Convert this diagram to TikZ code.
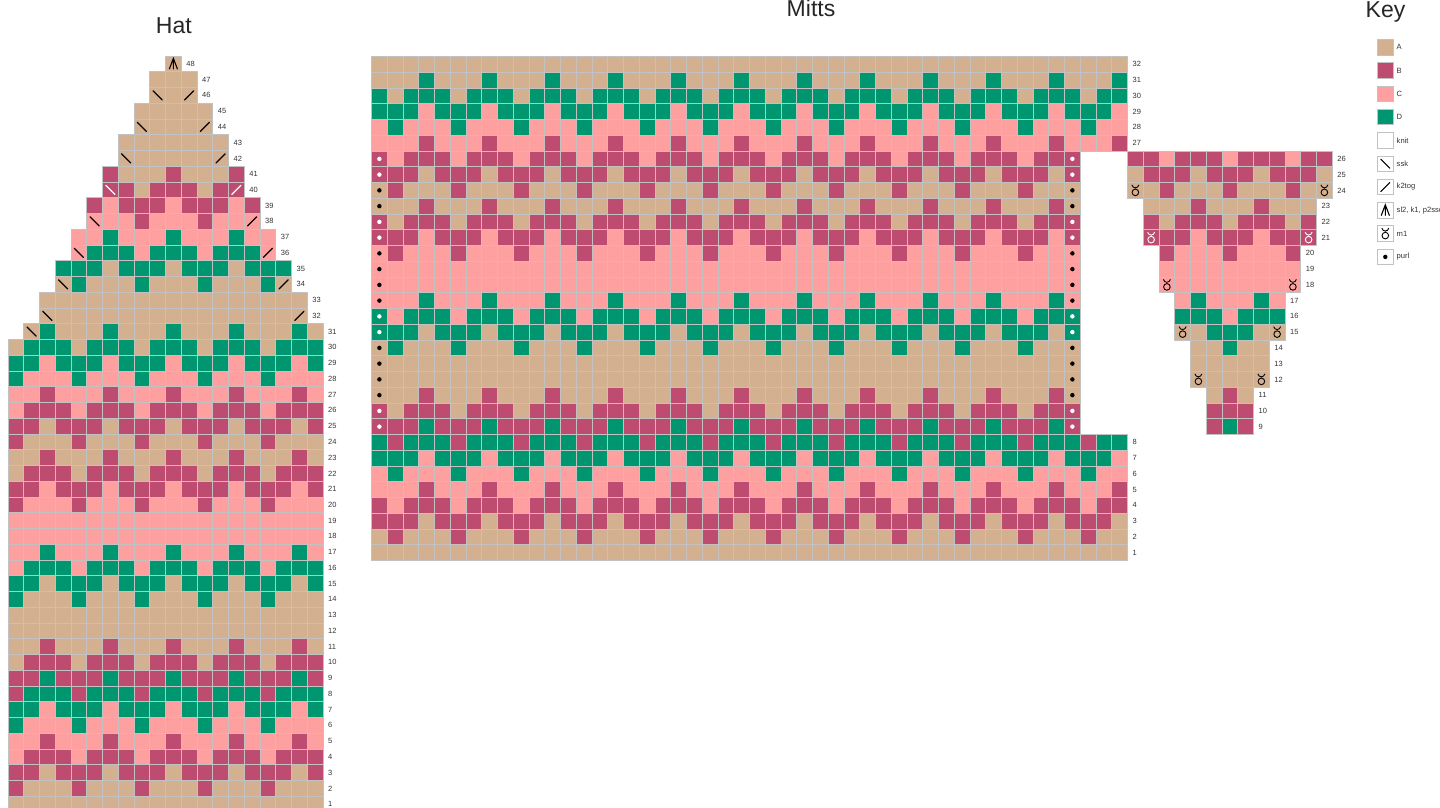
\documentclass[tikz,border=0pt]{standalone}
\usepackage{fontspec}
\setmainfont{Liberation Sans}
\usetikzlibrary{positioning}
\definecolor{yarnA}{HTML}{D3B08F}
\definecolor{yarnB}{HTML}{BE4C70}
\definecolor{yarnC}{HTML}{FFA0A0}
\definecolor{yarnD}{HTML}{009670}
\definecolor{gridgrey}{HTML}{C2C2C2}
\newcommand{\cellsz}{15.75}
% one chart row: left edge, top edge, first and last column, main yarn, contrast yarn, column (mod 4) of the contrast
\newcommand{\chartrow}[7]{%
  \foreach \ci in {#3,...,#4} {%
    \pgfmathtruncatemacro{\md}{mod(\ci,4)}%
    \ifnum\md=#7\relax\edef\yarn{#6}\else\edef\yarn{#5}\fi
    \draw[cell, fill=yarn\yarn] ({#1+(\ci-1)*\cellsz},{#2}) rectangle ++(\cellsz,\cellsz);
  }}

\begin{document}
\begin{tikzpicture}[x=1pt, y=-1pt,
    cell/.style={draw=gridgrey, line width=0.9pt},
    rowno/.style={anchor=west, inner sep=0pt, text=black!80, font=\fontsize{7.5}{9}\selectfont},
    title/.style={anchor=base, inner sep=0pt, text=black!85, font=\fontsize{23}{27}\selectfont},
    swatch/.style={draw=gridgrey, line width=0.9pt, minimum size=15.5pt, inner sep=0pt},
    keytext/.style={anchor=west, inner sep=0pt, text=black!80, font=\fontsize{7.6}{9}\selectfont},
    stitch/.style={line width=1.1pt, line cap=round},
    ssk/.pic={\draw[stitch] (-4.5,-4.5) -- (4.5,4.5);},
    k2tog/.pic={\draw[stitch] (-4.5,4.5) -- (4.5,-4.5);},
    cdd/.pic={\draw[stitch] (-4,5) -- (0,-5.5) -- (4,5) (0,-5.5) -- (0,5);},
    mone/.pic={\draw[line width=0.9pt] (0,2) circle (3.3)
        (-3.5,-5.5) .. controls (-2.5,-1.6) and (2.5,-1.6) .. (3.5,-5.5);},
    purl/.pic={\fill (0,0) circle (2.2);},
  ]
  \useasboundingbox (0,0) rectangle (1440,807);
  \clip (0,0) rectangle (1440,807);

  % Titles
  \node[title] (hattitle) at (173.8,33) {Hat};
  \node[title] (mittstitle) at (811,16.5) {Mitts};
  \node[title] (keytitle) at (1385.5,17) {Key};

  % Hat
  \foreach \rw/\lo/\hi/\mainy/\cony/\ph in {1/1/20/A/A/1, 2/1/20/A/B/1, 3/1/20/B/A/3,
      4/1/20/B/C/1, 5/1/20/C/B/3, 6/1/20/C/D/1, 7/1/20/D/C/3, 8/1/20/D/B/1,
      9/1/20/B/D/3, 10/1/20/B/A/1, 11/1/20/A/B/3, 12/1/20/A/A/1, 13/1/20/A/A/3,
      14/1/20/A/D/1, 15/1/20/D/A/3, 16/1/20/D/C/1, 17/1/20/C/D/3, 18/1/20/C/C/1,
      19/1/20/C/C/3, 20/1/20/C/B/1, 21/1/20/B/C/3, 22/1/20/B/A/1, 23/1/20/A/B/3,
      24/1/20/A/B/1, 25/1/20/B/A/3, 26/1/20/B/C/1, 27/1/20/C/B/3, 28/1/20/C/D/1,
      29/1/20/D/C/3, 30/1/20/D/A/1, 31/2/20/A/D/3, 32/3/19/A/A/1, 33/3/19/A/A/3,
      34/4/18/A/D/1, 35/4/18/D/A/3, 36/5/17/D/C/1, 37/5/17/C/D/3, 38/6/16/C/B/1,
      39/6/16/B/C/3, 40/7/15/B/A/1, 41/7/15/A/B/3, 42/8/14/A/A/1, 43/8/14/A/A/3,
      44/9/13/A/A/1, 45/9/13/A/A/3, 46/10/12/A/A/1, 47/10/12/A/A/3, 48/11/11/A/A/1} {
    \chartrow{8}{56+(48-\rw)*\cellsz}{\lo}{\hi}{\mainy}{\cony}{\ph}
    \node[rowno] (hat\rw) at ({8+\hi*\cellsz+5},{56+(48.5-\rw)*\cellsz}) {\rw};
  }
  \foreach \ci/\rw/\ink in {2/31/black, 3/32/black, 4/34/black, 5/36/black, 6/38/black,
      7/40/white, 8/42/black, 9/44/black, 10/46/black}
    \pic[\ink] at ({8+(\ci-0.5)*\cellsz},{56+(48.5-\rw)*\cellsz}) {ssk};
  \foreach \ci/\rw/\ink in {19/32/black, 18/34/black, 17/36/black, 16/38/black,
      15/40/white, 14/42/black, 13/44/black, 12/46/black}
    \pic[\ink] at ({8+(\ci-0.5)*\cellsz},{56+(48.5-\rw)*\cellsz}) {k2tog};
  \pic at ({8+10.5*\cellsz},{56+0.5*\cellsz}) {cdd};

  % Mitts
  \foreach \rw/\hi/\mainy/\cony/\ph in {1/48/A/A/0, 2/48/A/B/2, 3/48/B/A/0, 4/48/B/C/2,
      5/48/C/B/0, 6/48/C/D/2, 7/48/D/C/0, 8/48/D/B/2, 9/45/B/D/0, 10/45/B/A/2,
      11/45/A/B/0, 12/45/A/A/0, 13/45/A/A/0, 14/45/A/D/2, 15/45/D/A/0, 16/45/D/C/2,
      17/45/C/D/0, 18/45/C/C/0, 19/45/C/C/0, 20/45/C/B/2, 21/45/B/C/0, 22/45/B/A/2,
      23/45/A/B/0, 24/45/A/B/2, 25/45/B/A/0, 26/45/B/C/2, 27/48/C/B/0, 28/48/C/D/2,
      29/48/D/C/0, 30/48/D/A/2, 31/48/A/D/0, 32/48/A/A/0} {
    \chartrow{371.5}{56.5+(32-\rw)*\cellsz}{1}{\hi}{\mainy}{\cony}{\ph}
    \ifnum\hi=48
      \node[rowno] (mitt\rw) at ({371.5+48*\cellsz+5},{56.5+(32.5-\rw)*\cellsz}) {\rw};
    \fi
  }
  \foreach \rw/\ink in {9/white, 10/white, 11/black, 12/black, 13/black, 14/black,
      15/white, 16/white, 17/black, 18/black, 19/black, 20/black, 21/white, 22/white,
      23/black, 24/black, 25/white, 26/white}
    \foreach \ci in {1,45}
      \pic[\ink] at ({371.5+(\ci-0.5)*\cellsz},{56.5+(32.5-\rw)*\cellsz}) {purl};

  % Thumb
  \foreach \rw/\lo/\hi/\mainy/\cony/\ph in {9/6/8/B/D/3, 10/6/8/B/A/1, 11/6/8/A/B/3,
      12/5/9/A/A/1, 13/5/9/A/A/1, 14/5/9/A/D/3, 15/4/10/D/A/1, 16/4/10/D/C/3,
      17/4/10/C/D/1, 18/3/11/C/C/1, 19/3/11/C/C/1, 20/3/11/C/B/3, 21/2/12/B/C/1,
      22/2/12/B/A/3, 23/2/12/A/B/1, 24/1/13/A/B/3, 25/1/13/B/A/1, 26/1/13/B/C/3} {
    \chartrow{1127.5}{56.5+(32-\rw)*\cellsz}{\lo}{\hi}{\mainy}{\cony}{\ph}
    \node[rowno] (thumb\rw) at ({1127.5+\hi*\cellsz+5},{56.5+(32.5-\rw)*\cellsz}) {\rw};
  }
  \foreach \kk/\rw/\mainy/\ink in {1/24/A/black, 13/24/A/black, 2/21/B/white,
      12/21/B/white, 3/18/C/black, 11/18/C/black, 4/15/A/black, 10/15/A/black,
      5/12/A/black, 9/12/A/black} {
    \draw[cell, fill=yarn\mainy] ({1127.5+(\kk-1)*\cellsz},{56.5+(32-\rw)*\cellsz}) rectangle ++(\cellsz,\cellsz);
    \pic[\ink] at ({1127.5+(\kk-0.5)*\cellsz},{56.5+(32.5-\rw)*\cellsz}) {mone};
  }

  % Key
  \foreach \sw/\txt [count=\n] in {yarnA/A, yarnB/B, yarnC/C, yarnD/D, white/knit,
      white/ssk, white/k2tog, white/{sl2, k1, p2sso}, white/m1, white/purl} {
    \node[swatch, fill=\sw] (key\n) at (1385.3,{47.2+(\n-1)*23.3}) {};
    \node[keytext, right=3pt of key\n] (keylabel\n) {\txt};
  }
  \pic at (key6) {ssk};
  \pic at (key7) {k2tog};
  \pic at (key8) {cdd};
  \pic at (key9) {mone};
  \pic at (key10) {purl};
\end{tikzpicture}
\end{document}
